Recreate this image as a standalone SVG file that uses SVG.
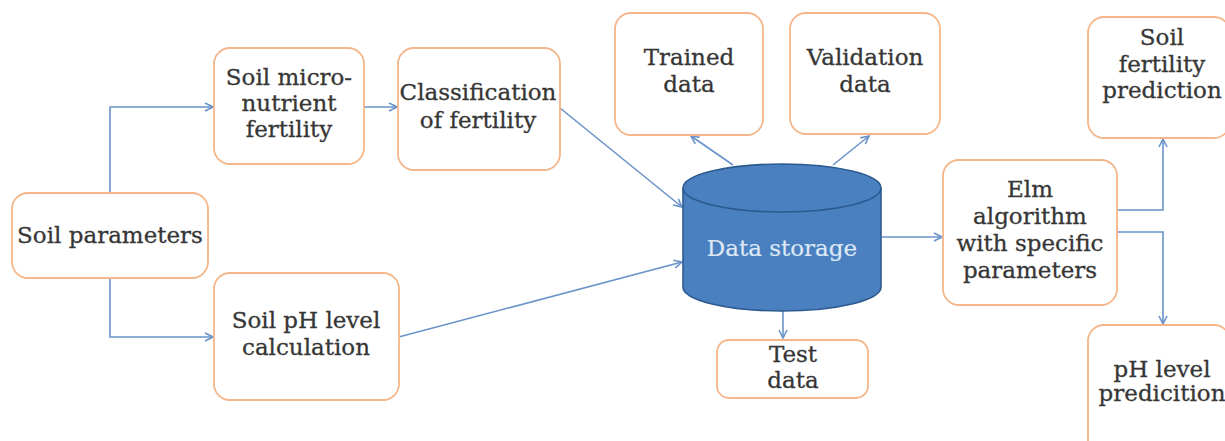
<svg xmlns="http://www.w3.org/2000/svg" width="1225" height="441" viewBox="0 0 1225 441">
  <style>
    .box { fill: #ffffff; stroke: #f4b68a; stroke-width: 1.8; }
    .lbl { font-family: "DejaVu Serif", "Liberation Serif", serif; font-size: 23px; fill: #363636; stroke: #363636; stroke-width: 0.3; text-anchor: middle; }
    .wire { fill: none; stroke: #6a93c8; stroke-width: 1.6; marker-end: url(#tip); }
  </style>
  <defs>
    <marker id="tip" viewBox="0 0 10 10" refX="9" refY="5" markerWidth="10" markerHeight="10" markerUnits="userSpaceOnUse" orient="auto">
      <path d="M1,1 L9,5 L1,9" fill="none" stroke="#6a93c8" stroke-width="1.6"/>
    </marker>
  </defs>
  <rect width="1225" height="441" fill="#ffffff"/>

  <g id="connectors">
    <path class="wire" d="M110,193 V107 H213"/>
    <path class="wire" d="M110,278 V337 H213"/>
    <path class="wire" d="M364,107 H397"/>
    <path class="wire" d="M560,108 L682,207"/>
    <path class="wire" d="M395,338 L682,262"/>
    <path class="wire" d="M733,165 L691,136"/>
    <path class="wire" d="M833,165 L869,136"/>
    <path class="wire" d="M783,311 V338"/>
    <path class="wire" d="M882,237 H942"/>
    <path class="wire" d="M1117,210 H1163 V139"/>
    <path class="wire" d="M1117,232 H1163 V324"/>
  </g>

  <g id="soil-parameters">
    <rect class="box" x="12" y="193" width="196" height="85" rx="16"/>
    <text class="lbl" x="110" y="243">Soil parameters</text>
  </g>

  <g id="soil-micronutrient">
    <rect class="box" x="214" y="48" width="150" height="116" rx="16"/>
    <text class="lbl" x="289" y="85">Soil micro-</text>
    <text class="lbl" x="289" y="111">nutrient</text>
    <text class="lbl" x="289" y="137">fertility</text>
  </g>

  <g id="soil-ph-calc">
    <rect class="box" x="214" y="273" width="185" height="127" rx="16"/>
    <text class="lbl" x="306" y="328">Soil pH level</text>
    <text class="lbl" x="306" y="355">calculation</text>
  </g>

  <g id="classification">
    <rect class="box" x="398" y="48" width="162" height="122" rx="16"/>
    <text class="lbl" x="478" y="100">Classification</text>
    <text class="lbl" x="478" y="128">of fertility</text>
  </g>

  <g id="trained-data">
    <rect class="box" x="615" y="13" width="148" height="122" rx="16"/>
    <text class="lbl" x="689" y="65">Trained</text>
    <text class="lbl" x="689" y="92">data</text>
  </g>

  <g id="validation-data">
    <rect class="box" x="790" y="13" width="150" height="121" rx="16"/>
    <text class="lbl" x="865" y="65">Validation</text>
    <text class="lbl" x="865" y="92">data</text>
  </g>

  <g id="data-storage">
    <path d="M683,188 V287 A99,24 0 0 0 881,287 V188" fill="#4a7fc0" stroke="#2c5a8f" stroke-width="1.6"/>
    <ellipse cx="782" cy="188" rx="99" ry="24" fill="#4a7fc0" stroke="#2c5a8f" stroke-width="1.6"/>
    <text class="lbl" x="782" y="256" style="fill:#dde8f5;stroke:#dde8f5;stroke-width:0.2">Data storage</text>
  </g>

  <g id="test-data">
    <rect class="box" x="717" y="340" width="151" height="58" rx="12"/>
    <text class="lbl" x="793" y="362">Test</text>
    <text class="lbl" x="793" y="388">data</text>
  </g>

  <g id="elm-algorithm">
    <rect class="box" x="943" y="160" width="174" height="145" rx="16"/>
    <text class="lbl" x="1030" y="197">Elm</text>
    <text class="lbl" x="1030" y="224">algorithm</text>
    <text class="lbl" x="1030" y="251">with specific</text>
    <text class="lbl" x="1030" y="278">parameters</text>
  </g>

  <g id="fertility-prediction">
    <rect class="box" x="1088" y="17" width="142" height="121" rx="16"/>
    <text class="lbl" x="1162" y="45">Soil</text>
    <text class="lbl" x="1162" y="72">fertility</text>
    <text class="lbl" x="1162" y="98">prediction</text>
  </g>

  <g id="ph-prediction">
    <rect class="box" x="1088" y="325" width="142" height="135" rx="16"/>
    <text class="lbl" x="1162" y="377">pH level</text>
    <text class="lbl" x="1162" y="401">predicition</text>
  </g>
</svg>
